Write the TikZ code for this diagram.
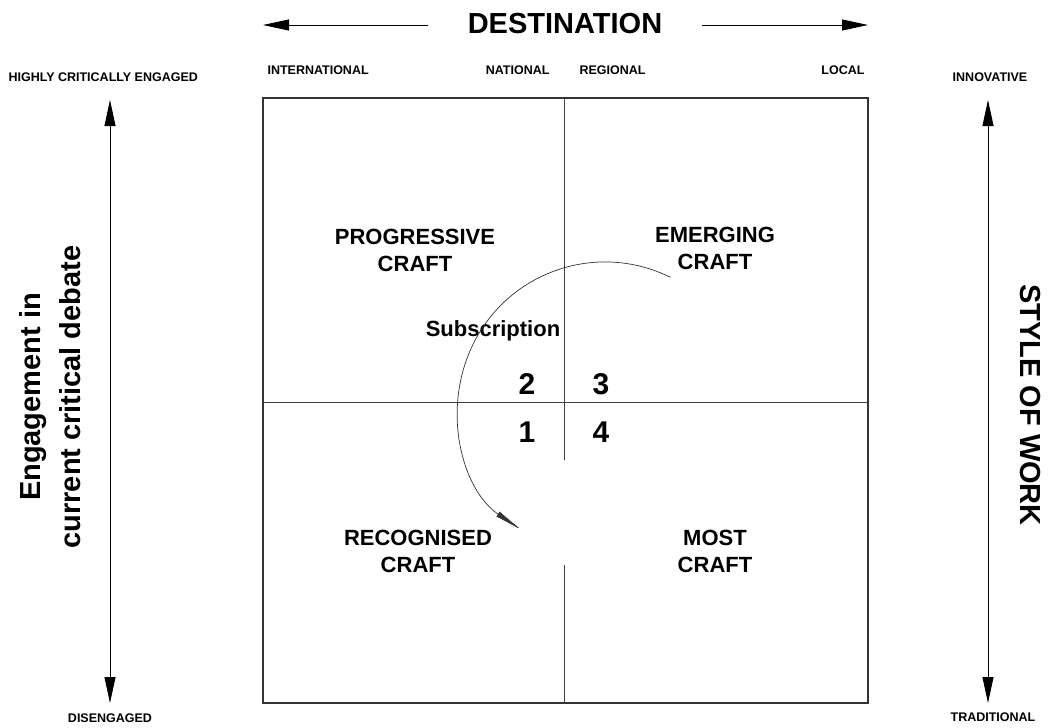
\documentclass[tikz,border=0pt]{standalone}
\usepackage{fontspec}
\setmainfont{Liberation Sans}
\usetikzlibrary{arrows.meta}

\begin{document}
\begin{tikzpicture}[x=1pt,y=-1pt,
        axis/.style={line width=0.9pt,{Triangle[length=26pt,width=11pt]}-{Triangle[length=26pt,width=11pt]}},
        half/.style={line width=0.9pt,-{Triangle[length=26pt,width=11pt]}},
        grid/.style={line width=0.7pt,draw=black!75},
        quad/.style={font=\fontsize{22}{27}\selectfont\bfseries,align=center},
        num/.style={font=\fontsize{30}{30}\selectfont\bfseries},
        small/.style={font=\fontsize{12.5}{13}\selectfont\bfseries},
        big/.style={font=\fontsize{29}{40}\selectfont\bfseries,align=center}]

    \useasboundingbox (0,0) rectangle (1055,728);

    \node[big] (dest) at (565,24) {DESTINATION};
    \coordinate (dl) at (428,25);
    \coordinate (dlend) at (263,25);
    \coordinate (dr) at (702,25);
    \coordinate (drend) at (868,25);
    \draw[half] (dl) -- (dlend);
    \draw[half] (dr) -- (drend);

    \node[small,anchor=west] (intl) at (264,70) {INTERNATIONAL};
    \node[small,anchor=east] (natl) at (553,70) {NATIONAL};
    \node[small,anchor=west] (regl) at (576,70) {REGIONAL};
    \node[small,anchor=east] (locl) at (868,70) {LOCAL};
    \node[small,anchor=west] (high) at (5,77) {HIGHLY CRITICALLY ENGAGED};
    \node[small] (dis) at (110,718) {DISENGAGED};
    \node[small] (inno) at (990,77) {INNOVATIVE};
    \node[small] (trad) at (993,717) {TRADITIONAL};

    \coordinate (ltop) at (110,100);
    \coordinate (lbot) at (110,703);
    \coordinate (rtop) at (988,100);
    \coordinate (rbot) at (988,703);
    \draw[axis] (ltop) -- (lbot);
    \draw[axis] (rtop) -- (rbot);

    \node[big,rotate=90] (engage) at (50,397) {Engagement in\\current critical debate};
    \node[big,rotate=-90] (style) at (1030,405) {STYLE OF WORK};

    \node[draw=black!80,line width=1.5pt,minimum width=605pt,minimum height=605pt,inner sep=0pt] (box) at (565.5,400.5) {};
    \coordinate (mtop) at (564,98);
    \coordinate (mgapa) at (564,460);
    \coordinate (mgapb) at (564,565);
    \coordinate (mbot) at (564,703);
    \coordinate (hl) at (263,402);
    \coordinate (hr) at (868,402);
    \draw[grid] (mtop) -- (mgapa);
    \draw[grid] (mgapb) -- (mbot);
    \draw[grid] (hl) -- (hr);

    \node[quad] (prog) at (415,250) {PROGRESSIVE\\CRAFT};
    \node[quad] (emer) at (715,248) {EMERGING\\CRAFT};
    \node[quad] (reco) at (418,551) {RECOGNISED\\CRAFT};
    \node[quad] (most) at (715,551) {MOST\\CRAFT};

    \node[quad] (sub) at (493,331) {Subscription};

    \node[num] (n2) at (527,384) {2};
    \node[num] (n3) at (601,384) {3};
    \node[num] (n1) at (527,432) {1};
    \node[num] (n4) at (601,432) {4};

    \coordinate (arcstart) at (670.4,277.3);
    \draw[line width=0.7pt,draw=black!80,-{Latex[length=30pt,width=6pt]}] (arcstart) arc[start angle=-63.6,end angle=-236,radius=147];

\end{tikzpicture}
\end{document}
